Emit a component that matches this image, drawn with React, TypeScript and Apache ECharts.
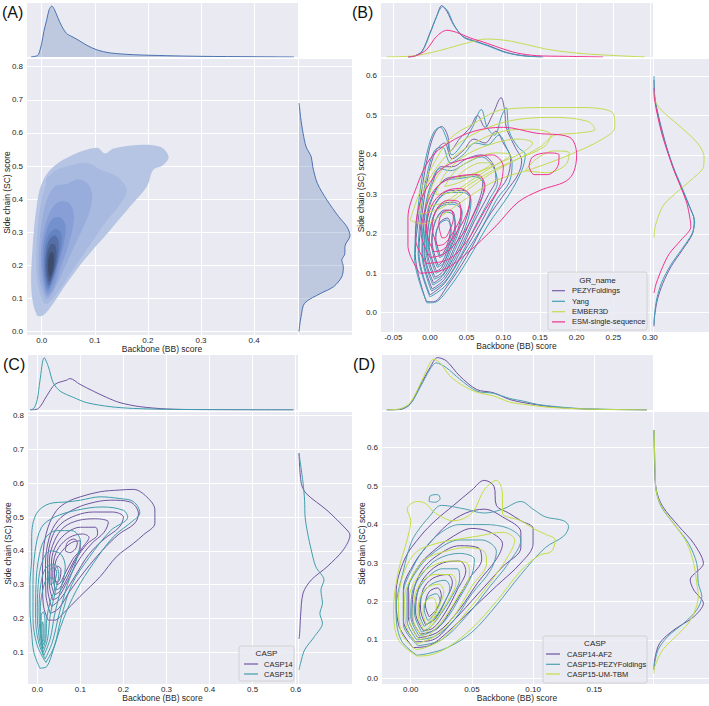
import React, { useEffect, useRef } from "react";
import * as echarts from "echarts";

type P = [number, number];

// ================= Panel A (single distribution, filled KDE) =================
const A_X_KDE: P[] = [[-0.02,0],[-0.01,0.02],[-0.006,0.05],[0.0,0.27],[0.004,0.5],[0.0094,0.73],[0.014,0.93],[0.019,1.0],[0.024,0.93],[0.03,0.78],[0.038,0.6],[0.047,0.46],[0.057,0.4],[0.066,0.35],[0.085,0.23],[0.104,0.14],[0.129,0.08],[0.173,0.045],[0.235,0.026],[0.3,0.013],[0.4,0.005],[0.475,0]];
const A_Y_KDE: P[] = [[0.0,0],[0.015,0.01],[0.045,0.04],[0.086,0.11],[0.116,0.43],[0.136,0.68],[0.166,0.84],[0.196,0.87],[0.216,0.84],[0.236,0.9],[0.257,0.9],[0.29,1.0],[0.317,0.94],[0.347,0.78],[0.397,0.55],[0.448,0.36],[0.498,0.27],[0.528,0.24],[0.558,0.14],[0.599,0.08],[0.649,0.03],[0.679,0.01],[0.69,0]];
const A_LEVELS: P[][] = [
  [[-0.009,0.05],[-0.019,0.116],[-0.018,0.236],[-0.008,0.397],[0.003,0.458],[0.022,0.498],[0.057,0.533],[0.104,0.555],[0.119,0.538],[0.135,0.553],[0.179,0.564],[0.223,0.558],[0.239,0.528],[0.229,0.503],[0.21,0.488],[0.198,0.438],[0.166,0.377],[0.129,0.307],[0.085,0.226],[0.047,0.146],[0.022,0.086],[0.003,0.05]],
  [[0.005,0.085],[-0.008,0.15],[-0.01,0.25],[-0.005,0.35],[0.005,0.43],[0.02,0.48],[0.05,0.5],[0.085,0.51],[0.11,0.49],[0.14,0.47],[0.16,0.43],[0.15,0.39],[0.12,0.33],[0.09,0.26],[0.06,0.19],[0.035,0.13],[0.015,0.09]],
  [[0.008,0.1],[-0.004,0.16],[-0.005,0.25],[0.0,0.33],[0.01,0.4],[0.025,0.44],[0.045,0.445],[0.07,0.46],[0.09,0.44],[0.095,0.4],[0.085,0.34],[0.065,0.27],[0.045,0.2],[0.028,0.14],[0.015,0.105]],
  [[0.01,0.11],[0.0,0.17],[-0.001,0.25],[0.005,0.31],[0.015,0.36],[0.03,0.39],[0.05,0.39],[0.06,0.36],[0.058,0.31],[0.048,0.25],[0.035,0.19],[0.022,0.13]],
  [[0.011,0.12],[0.003,0.17],[0.002,0.24],[0.008,0.3],[0.02,0.34],[0.035,0.345],[0.045,0.32],[0.042,0.27],[0.033,0.21],[0.022,0.15]],
  [[0.012,0.13],[0.005,0.17],[0.005,0.24],[0.012,0.29],[0.025,0.31],[0.036,0.3],[0.037,0.26],[0.03,0.21],[0.02,0.155]],
  [[0.013,0.14],[0.007,0.18],[0.008,0.24],[0.015,0.28],[0.026,0.29],[0.032,0.27],[0.03,0.22],[0.022,0.17]],
  [[0.014,0.15],[0.009,0.19],[0.011,0.24],[0.018,0.265],[0.026,0.26],[0.027,0.22],[0.021,0.175]],
  [[0.015,0.165],[0.012,0.2],[0.015,0.235],[0.021,0.24],[0.023,0.21],[0.02,0.18]],
];
const A_BLOB: P[] = [[0.008,0.45],[0.012,0.47],[0.02,0.468],[0.022,0.452],[0.015,0.44]];

// ================= Panel B =================
const B_GROUPS = ["PEZYFoldings", "Yang", "EMBER3D", "ESM-single-sequence"];
const B_X_KDE: P[][] = [
  [[-0.03,0],[-0.023,0.01],[-0.011,0.11],[0.0,0.47],[0.009,0.79],[0.016,1.0],[0.023,0.89],[0.032,0.63],[0.045,0.4],[0.064,0.3],[0.082,0.21],[0.1,0.11],[0.118,0.045],[0.135,0.015],[0.152,0]],
  [[-0.03,0],[-0.023,0.01],[-0.011,0.1],[0.0,0.45],[0.009,0.78],[0.017,0.98],[0.024,0.9],[0.033,0.62],[0.046,0.38],[0.064,0.29],[0.082,0.2],[0.1,0.1],[0.118,0.04],[0.135,0.012],[0.155,0]],
  [[-0.059,0],[-0.03,0.012],[-0.018,0.03],[0.0,0.08],[0.027,0.18],[0.05,0.27],[0.077,0.35],[0.105,0.32],[0.132,0.24],[0.164,0.14],[0.209,0.065],[0.255,0.026],[0.293,0]],
  [[-0.03,0],[-0.018,0.03],[-0.005,0.14],[0.009,0.4],[0.023,0.52],[0.036,0.48],[0.055,0.37],[0.073,0.29],[0.095,0.18],[0.118,0.08],[0.145,0.026],[0.186,0.013],[0.236,0]],
];
const B_Y_KDE: P[][] = [
  [[-0.035,0],[-0.01,0.01],[0.032,0.06],[0.074,0.16],[0.117,0.31],[0.16,0.52],[0.2,0.7],[0.235,0.73],[0.27,0.64],[0.32,0.49],[0.37,0.34],[0.455,0.16],[0.54,0.02],[0.59,0]],
  [[-0.03,0],[-0.005,0.01],[0.035,0.05],[0.077,0.14],[0.12,0.3],[0.16,0.5],[0.2,0.69],[0.23,0.74],[0.265,0.66],[0.32,0.5],[0.37,0.35],[0.455,0.15],[0.54,0.02],[0.6,0]],
  [[0.19,0],[0.218,0.02],[0.27,0.16],[0.3,0.37],[0.336,0.67],[0.37,0.9],[0.395,0.91],[0.43,0.79],[0.47,0.49],[0.514,0.13],[0.54,0.01],[0.56,0]],
  [[0.05,0],[0.074,0.04],[0.117,0.16],[0.15,0.28],[0.184,0.49],[0.218,0.67],[0.25,0.64],[0.285,0.58],[0.37,0.34],[0.455,0.14],[0.54,0.01],[0.57,0]],
];
const B_CONTOURS: P[][][] = [
  [
    [[-0.005,0.028],[-0.02,0.15],[-0.015,0.25],[-0.009,0.336],[0.0,0.42],[0.008,0.46],[0.016,0.472],[0.024,0.45],[0.028,0.41],[0.04,0.44],[0.055,0.47],[0.065,0.5],[0.075,0.47],[0.085,0.5],[0.097,0.545],[0.102,0.51],[0.104,0.47],[0.116,0.42],[0.125,0.385],[0.12,0.35],[0.105,0.31],[0.077,0.235],[0.05,0.142],[0.023,0.066],[0.005,0.028]],
    [[0.0,0.045],[-0.015,0.15],[-0.01,0.26],[-0.002,0.35],[0.008,0.41],[0.02,0.43],[0.03,0.39],[0.045,0.41],[0.06,0.44],[0.075,0.43],[0.09,0.46],[0.1,0.43],[0.11,0.39],[0.105,0.34],[0.09,0.3],[0.07,0.23],[0.045,0.15],[0.02,0.075]],
    [[0.003,0.06],[-0.01,0.15],[-0.006,0.26],[0.004,0.33],[0.015,0.37],[0.03,0.37],[0.05,0.39],[0.07,0.4],[0.085,0.38],[0.09,0.34],[0.08,0.3],[0.06,0.23],[0.04,0.15],[0.02,0.085]],
    [[0.005,0.075],[-0.007,0.15],[-0.003,0.25],[0.008,0.31],[0.022,0.34],[0.04,0.345],[0.06,0.35],[0.072,0.33],[0.068,0.29],[0.052,0.22],[0.035,0.15],[0.018,0.095]],
    [[0.007,0.09],[-0.004,0.16],[0.0,0.24],[0.012,0.29],[0.028,0.31],[0.045,0.31],[0.055,0.29],[0.048,0.23],[0.032,0.16],[0.018,0.105]],
    [[0.009,0.105],[-0.001,0.17],[0.004,0.24],[0.016,0.275],[0.032,0.28],[0.043,0.26],[0.038,0.21],[0.027,0.16],[0.016,0.115]],
    [[0.011,0.12],[0.003,0.18],[0.008,0.235],[0.02,0.26],[0.032,0.255],[0.034,0.22],[0.026,0.17],[0.017,0.13]],
    [[0.014,0.145],[0.008,0.19],[0.014,0.23],[0.024,0.24],[0.028,0.215],[0.024,0.175],[0.018,0.15]],
  ],
  [
    [[-0.004,0.025],[-0.021,0.14],[-0.017,0.25],[-0.011,0.34],[-0.002,0.42],[0.006,0.46],[0.014,0.47],[0.022,0.445],[0.03,0.4],[0.045,0.43],[0.058,0.47],[0.07,0.515],[0.078,0.47],[0.088,0.45],[0.098,0.5],[0.104,0.52],[0.108,0.46],[0.12,0.42],[0.13,0.4],[0.125,0.36],[0.108,0.3],[0.08,0.225],[0.052,0.135],[0.025,0.06],[0.006,0.026]],
    [[0.0,0.04],[-0.016,0.15],[-0.012,0.26],[-0.004,0.35],[0.006,0.41],[0.017,0.42],[0.028,0.38],[0.045,0.4],[0.062,0.43],[0.078,0.425],[0.094,0.45],[0.104,0.42],[0.112,0.38],[0.108,0.33],[0.092,0.29],[0.072,0.22],[0.047,0.145],[0.022,0.07]],
    [[0.002,0.055],[-0.011,0.15],[-0.007,0.26],[0.002,0.33],[0.013,0.365],[0.028,0.36],[0.05,0.38],[0.07,0.395],[0.086,0.37],[0.092,0.33],[0.082,0.29],[0.062,0.22],[0.042,0.145],[0.021,0.08]],
    [[0.004,0.07],[-0.008,0.15],[-0.004,0.25],[0.007,0.31],[0.021,0.335],[0.04,0.34],[0.06,0.345],[0.074,0.325],[0.07,0.285],[0.054,0.215],[0.036,0.145],[0.019,0.09]],
    [[0.006,0.085],[-0.005,0.155],[-0.001,0.235],[0.011,0.285],[0.027,0.305],[0.045,0.305],[0.056,0.285],[0.05,0.225],[0.033,0.155],[0.019,0.1]],
    [[0.008,0.1],[-0.002,0.165],[0.003,0.235],[0.015,0.27],[0.031,0.275],[0.044,0.255],[0.039,0.205],[0.028,0.155],[0.017,0.11]],
    [[0.01,0.115],[0.002,0.175],[0.007,0.23],[0.019,0.255],[0.031,0.25],[0.035,0.215],[0.027,0.165],[0.018,0.125]],
    [[0.013,0.14],[0.007,0.185],[0.013,0.225],[0.023,0.235],[0.029,0.21],[0.025,0.17],[0.018,0.145]],
  ],
  [
    [[-0.027,0.235],[-0.015,0.3],[0.0,0.36],[0.027,0.44],[0.06,0.48],[0.1,0.515],[0.16,0.52],[0.21,0.52],[0.25,0.505],[0.252,0.47],[0.235,0.44],[0.19,0.4],[0.14,0.365],[0.09,0.335],[0.05,0.29],[0.015,0.245],[-0.01,0.225]],
    [[-0.015,0.25],[-0.008,0.31],[0.01,0.37],[0.04,0.43],[0.08,0.47],[0.12,0.49],[0.17,0.495],[0.215,0.485],[0.225,0.465],[0.2,0.455],[0.17,0.45],[0.15,0.42],[0.12,0.39],[0.085,0.355],[0.05,0.31],[0.015,0.265]],
    [[-0.005,0.27],[0.005,0.33],[0.03,0.39],[0.06,0.43],[0.1,0.46],[0.14,0.465],[0.165,0.45],[0.155,0.42],[0.12,0.39],[0.085,0.36],[0.05,0.32],[0.02,0.28]],
    [[0.008,0.3],[0.02,0.35],[0.045,0.395],[0.08,0.425],[0.12,0.44],[0.14,0.43],[0.125,0.405],[0.09,0.375],[0.06,0.34],[0.03,0.305]],
    [[0.02,0.32],[0.035,0.36],[0.06,0.39],[0.09,0.405],[0.11,0.4],[0.095,0.38],[0.065,0.355],[0.04,0.33]],
    [[0.035,0.34],[0.05,0.365],[0.07,0.38],[0.085,0.38],[0.075,0.365],[0.055,0.35]],
    [[0.13,0.36],[0.145,0.39],[0.17,0.41],[0.19,0.405],[0.185,0.375],[0.16,0.355]],
  ],
  [
    [[-0.014,0.1],[-0.03,0.17],[-0.03,0.24],[-0.018,0.32],[0.0,0.39],[0.025,0.43],[0.06,0.46],[0.1,0.47],[0.145,0.455],[0.19,0.445],[0.2,0.4],[0.19,0.34],[0.15,0.31],[0.12,0.28],[0.09,0.22],[0.05,0.15],[0.02,0.11]],
    [[-0.005,0.125],[-0.02,0.19],[-0.015,0.27],[0.0,0.33],[0.02,0.37],[0.05,0.39],[0.085,0.4],[0.1,0.37],[0.095,0.32],[0.075,0.26],[0.05,0.18],[0.025,0.135]],
    [[0.0,0.14],[-0.012,0.2],[-0.005,0.27],[0.01,0.32],[0.035,0.345],[0.065,0.35],[0.075,0.32],[0.065,0.27],[0.045,0.2],[0.02,0.15]],
    [[0.005,0.155],[-0.005,0.21],[0.002,0.27],[0.018,0.305],[0.04,0.315],[0.055,0.295],[0.05,0.25],[0.035,0.2],[0.018,0.16]],
    [[0.01,0.17],[0.003,0.215],[0.01,0.265],[0.025,0.285],[0.04,0.28],[0.042,0.25],[0.032,0.205],[0.02,0.175]],
    [[0.016,0.19],[0.012,0.225],[0.018,0.255],[0.028,0.26],[0.032,0.24],[0.027,0.21],[0.02,0.19]],
    [[0.135,0.37],[0.14,0.395],[0.16,0.405],[0.176,0.4],[0.175,0.375],[0.16,0.35],[0.142,0.35]],
  ],
];

// ================= Panel C =================
const C_GROUPS = ["CASP14", "CASP15"];
const C_X_KDE: P[][] = [
  [[-0.017,0],[0.002,0.025],[0.022,0.27],[0.041,0.49],[0.068,0.57],[0.076,0.6],[0.099,0.49],[0.13,0.36],[0.161,0.24],[0.192,0.14],[0.238,0.064],[0.3,0.02],[0.378,0.006],[0.595,0]],
  [[-0.017,0],[-0.008,0.03],[0.0,0.2],[0.006,0.55],[0.016,1.0],[0.026,0.82],[0.037,0.52],[0.053,0.36],[0.084,0.24],[0.115,0.14],[0.169,0.064],[0.223,0.03],[0.3,0.013],[0.595,0]],
];
const C_Y_KDE: P[][] = [
  [[0.14,0],[0.156,0.013],[0.205,0.03],[0.275,0.08],[0.314,0.24],[0.353,0.55],[0.403,0.87],[0.447,1.0],[0.462,0.94],[0.52,0.55],[0.57,0.14],[0.6,0.045],[0.689,0]],
  [[0.048,0],[0.067,0.03],[0.107,0.11],[0.146,0.3],[0.186,0.46],[0.215,0.41],[0.245,0.46],[0.284,0.43],[0.314,0.49],[0.353,0.33],[0.403,0.24],[0.452,0.17],[0.5,0.12],[0.55,0.11],[0.6,0.08],[0.689,0]],
];
const C_CONTOURS: P[][][] = [
  [
    [[0.025,0.195],[0.014,0.24],[0.012,0.32],[0.014,0.4],[0.025,0.47],[0.045,0.52],[0.07,0.545],[0.1,0.56],[0.146,0.575],[0.19,0.58],[0.223,0.582],[0.254,0.56],[0.273,0.521],[0.273,0.482],[0.246,0.447],[0.223,0.422],[0.184,0.383],[0.146,0.324],[0.099,0.265],[0.06,0.215],[0.04,0.195]],
    [[0.03,0.215],[0.02,0.27],[0.019,0.36],[0.028,0.44],[0.048,0.49],[0.08,0.52],[0.12,0.54],[0.17,0.55],[0.215,0.545],[0.235,0.51],[0.225,0.48],[0.19,0.45],[0.15,0.4],[0.11,0.34],[0.075,0.28],[0.05,0.23]],
    [[0.033,0.235],[0.024,0.29],[0.024,0.37],[0.034,0.44],[0.055,0.48],[0.09,0.505],[0.13,0.515],[0.175,0.515],[0.2,0.5],[0.19,0.47],[0.155,0.435],[0.12,0.39],[0.085,0.32],[0.055,0.26]],
    [[0.036,0.255],[0.028,0.3],[0.028,0.37],[0.04,0.43],[0.062,0.47],[0.095,0.49],[0.135,0.495],[0.165,0.485],[0.155,0.455],[0.125,0.42],[0.095,0.37],[0.07,0.31],[0.05,0.265]],
    [[0.04,0.27],[0.032,0.31],[0.033,0.37],[0.045,0.42],[0.07,0.455],[0.1,0.47],[0.135,0.47],[0.14,0.45],[0.115,0.42],[0.09,0.375],[0.07,0.32],[0.052,0.28]],
    [[0.043,0.285],[0.036,0.32],[0.038,0.37],[0.05,0.41],[0.075,0.44],[0.105,0.45],[0.12,0.44],[0.105,0.41],[0.085,0.37],[0.065,0.32],[0.052,0.29]],
    [[0.045,0.3],[0.04,0.33],[0.043,0.37],[0.058,0.4],[0.08,0.425],[0.1,0.43],[0.1,0.41],[0.082,0.375],[0.065,0.335],[0.053,0.305]],
    [[0.065,0.4],[0.07,0.425],[0.085,0.435],[0.093,0.425],[0.088,0.405],[0.075,0.395]],
    [[0.042,0.31],[0.04,0.335],[0.047,0.355],[0.055,0.345],[0.053,0.32],[0.047,0.308]],
  ],
  [
    [[0.006,0.053],[-0.008,0.1],[-0.013,0.156],[-0.017,0.23],[-0.017,0.304],[-0.013,0.38],[-0.013,0.442],[-0.002,0.51],[0.029,0.54],[0.07,0.545],[0.1,0.55],[0.146,0.56],[0.19,0.555],[0.223,0.546],[0.238,0.512],[0.223,0.49],[0.177,0.442],[0.13,0.363],[0.091,0.284],[0.06,0.196],[0.037,0.107],[0.022,0.058]],
    [[0.02,0.07],[0.0,0.12],[-0.01,0.2],[-0.01,0.3],[-0.005,0.4],[0.01,0.47],[0.04,0.5],[0.09,0.52],[0.15,0.53],[0.2,0.52],[0.21,0.5],[0.17,0.46],[0.12,0.38],[0.08,0.3],[0.055,0.2],[0.04,0.12]],
    [[0.018,0.08],[0.003,0.13],[-0.004,0.2],[-0.003,0.3],[0.005,0.39],[0.02,0.44],[0.045,0.46],[0.08,0.46],[0.1,0.43],[0.09,0.37],[0.07,0.3],[0.05,0.21],[0.035,0.13]],
    [[0.015,0.09],[0.005,0.14],[0.0,0.21],[0.002,0.3],[0.012,0.37],[0.03,0.4],[0.055,0.39],[0.065,0.35],[0.055,0.29],[0.04,0.21],[0.03,0.14]],
    [[0.014,0.1],[0.007,0.15],[0.004,0.22],[0.008,0.3],[0.02,0.35],[0.04,0.36],[0.05,0.33],[0.042,0.28],[0.03,0.21],[0.024,0.14]],
    [[0.013,0.11],[0.008,0.16],[0.007,0.22],[0.012,0.28],[0.025,0.32],[0.038,0.32],[0.04,0.29],[0.03,0.25],[0.022,0.2],[0.02,0.14]],
    [[0.012,0.12],[0.009,0.16],[0.009,0.21],[0.014,0.22],[0.018,0.19],[0.018,0.14]],
    [[0.012,0.13],[0.011,0.16],[0.012,0.19],[0.015,0.17],[0.015,0.14]],
    [[0.028,0.3],[0.025,0.33],[0.035,0.35],[0.045,0.34],[0.04,0.31]],
  ],
];

// ================= Panel D =================
const D_GROUPS = ["CASP14-AF2", "CASP15-PEZYFoldings", "CASP15-UM-TBM"];
const D_X_KDE: P[][] = [
  [[-0.0196,0],[-0.0087,0.01],[-0.0005,0.11],[0.0076,0.46],[0.0158,0.81],[0.0218,1.0],[0.029,0.94],[0.04,0.65],[0.054,0.39],[0.0675,0.33],[0.081,0.2],[0.095,0.13],[0.114,0.064],[0.141,0.02],[0.193,0]],
  [[-0.0196,0],[-0.0087,0.013],[-0.0005,0.11],[0.0076,0.43],[0.0158,0.78],[0.0207,0.9],[0.029,0.81],[0.04,0.59],[0.054,0.36],[0.0675,0.32],[0.081,0.22],[0.092,0.17],[0.103,0.11],[0.119,0.064],[0.141,0.025],[0.193,0]],
  [[-0.0196,0],[-0.0087,0.025],[-0.0005,0.14],[0.0076,0.49],[0.0158,0.9],[0.0185,0.97],[0.024,0.9],[0.032,0.65],[0.043,0.46],[0.054,0.34],[0.0675,0.27],[0.081,0.15],[0.095,0.1],[0.114,0.05],[0.141,0.02],[0.193,0]],
];
const D_Y_KDE: P[][] = [
  [[0.022,0],[0.048,0.013],[0.091,0.11],[0.126,0.39],[0.16,0.78],[0.195,0.97],[0.23,0.78],[0.256,0.71],[0.299,0.97],[0.351,0.78],[0.395,0.49],[0.447,0.17],[0.49,0.045],[0.55,0.013],[0.646,0]],
  [[0.03,0],[0.074,0.08],[0.109,0.27],[0.144,0.59],[0.178,0.84],[0.213,0.94],[0.247,0.87],[0.299,0.84],[0.351,0.68],[0.395,0.43],[0.447,0.14],[0.49,0.04],[0.55,0.02],[0.646,0]],
  [[0.013,0],[0.03,0.013],[0.074,0.17],[0.109,0.43],[0.144,0.68],[0.178,0.81],[0.213,0.87],[0.247,0.84],[0.299,0.78],[0.351,0.65],[0.395,0.43],[0.447,0.15],[0.49,0.04],[0.55,0.02],[0.646,0]],
];
const D_CONTOURS: P[][][] = [
  [
    [[0.002,0.08],[-0.01,0.14],[-0.012,0.22],[-0.005,0.31],[0.008,0.37],[0.02,0.41],[0.035,0.45],[0.05,0.49],[0.06,0.515],[0.068,0.5],[0.07,0.45],[0.08,0.43],[0.09,0.41],[0.1,0.39],[0.1,0.35],[0.09,0.3],[0.07,0.24],[0.05,0.18],[0.03,0.12],[0.015,0.085]],
    [[0.004,0.095],[-0.006,0.15],[-0.006,0.23],[0.003,0.3],[0.015,0.35],[0.03,0.4],[0.045,0.43],[0.06,0.44],[0.075,0.42],[0.09,0.38],[0.09,0.34],[0.075,0.29],[0.055,0.22],[0.035,0.15],[0.018,0.1]],
    [[0.006,0.105],[-0.002,0.16],[-0.002,0.23],[0.006,0.29],[0.018,0.33],[0.035,0.37],[0.05,0.39],[0.065,0.38],[0.075,0.35],[0.07,0.31],[0.055,0.25],[0.04,0.18],[0.022,0.12]],
    [[0.008,0.115],[0.001,0.16],[0.002,0.22],[0.009,0.28],[0.022,0.32],[0.04,0.345],[0.055,0.34],[0.058,0.31],[0.048,0.26],[0.035,0.19],[0.022,0.13]],
    [[0.01,0.125],[0.004,0.17],[0.006,0.23],[0.013,0.27],[0.026,0.3],[0.04,0.305],[0.045,0.28],[0.038,0.23],[0.028,0.17],[0.018,0.13]],
    [[0.012,0.14],[0.008,0.18],[0.01,0.23],[0.018,0.26],[0.03,0.27],[0.034,0.25],[0.028,0.2],[0.02,0.155]],
    [[0.015,0.16],[0.012,0.19],[0.015,0.225],[0.022,0.235],[0.025,0.215],[0.021,0.18]],
  ],
  [
    [[0.005,0.06],[-0.008,0.1],[-0.012,0.18],[-0.006,0.28],[0.0,0.35],[0.005,0.38],[0.015,0.42],[0.025,0.45],[0.045,0.44],[0.06,0.43],[0.075,0.44],[0.09,0.46],[0.1,0.44],[0.11,0.42],[0.125,0.41],[0.129,0.395],[0.125,0.37],[0.11,0.34],[0.09,0.27],[0.07,0.19],[0.05,0.12],[0.03,0.08],[0.015,0.065]],
    [[0.015,0.46],[0.016,0.475],[0.022,0.478],[0.024,0.468],[0.02,0.458]],
    [[0.006,0.085],[-0.006,0.14],[-0.006,0.22],[0.002,0.29],[0.012,0.34],[0.025,0.38],[0.04,0.4],[0.06,0.4],[0.08,0.39],[0.09,0.36],[0.08,0.3],[0.065,0.24],[0.045,0.16],[0.025,0.1]],
    [[0.005,0.1],[-0.003,0.15],[-0.003,0.22],[0.005,0.28],[0.02,0.33],[0.04,0.36],[0.058,0.36],[0.07,0.33],[0.065,0.28],[0.05,0.22],[0.035,0.15],[0.02,0.11]],
    [[0.007,0.11],[0.0,0.16],[0.001,0.22],[0.009,0.27],[0.022,0.31],[0.04,0.325],[0.052,0.31],[0.05,0.27],[0.04,0.21],[0.028,0.15],[0.016,0.12]],
    [[0.009,0.12],[0.003,0.17],[0.005,0.22],[0.013,0.26],[0.026,0.285],[0.038,0.285],[0.04,0.26],[0.033,0.21],[0.023,0.16],[0.015,0.13]],
    [[0.011,0.135],[0.007,0.17],[0.009,0.215],[0.017,0.245],[0.028,0.255],[0.032,0.235],[0.027,0.195],[0.019,0.155]],
    [[0.014,0.15],[0.011,0.18],[0.014,0.21],[0.021,0.22],[0.024,0.2],[0.02,0.17]],
  ],
  [
    [[0.005,0.058],[-0.01,0.1],[-0.014,0.18],[-0.01,0.28],[-0.003,0.36],[0.0,0.41],[-0.003,0.44],[0.005,0.46],[0.012,0.455],[0.02,0.43],[0.035,0.41],[0.05,0.43],[0.06,0.49],[0.07,0.515],[0.075,0.48],[0.075,0.43],[0.09,0.41],[0.1,0.39],[0.11,0.375],[0.118,0.36],[0.115,0.33],[0.105,0.32],[0.09,0.28],[0.07,0.2],[0.05,0.13],[0.03,0.08],[0.015,0.06]],
    [[0.004,0.075],[-0.008,0.12],[-0.01,0.2],[-0.005,0.28],[0.005,0.33],[0.02,0.35],[0.035,0.36],[0.055,0.37],[0.075,0.38],[0.085,0.36],[0.08,0.32],[0.065,0.25],[0.045,0.17],[0.025,0.1],[0.01,0.078]],
    [[0.005,0.09],[-0.004,0.14],[-0.005,0.21],[0.002,0.27],[0.012,0.31],[0.028,0.33],[0.045,0.34],[0.06,0.33],[0.062,0.3],[0.05,0.24],[0.035,0.16],[0.02,0.11]],
    [[0.007,0.1],[-0.001,0.15],[-0.001,0.21],[0.005,0.26],[0.016,0.29],[0.032,0.305],[0.046,0.3],[0.048,0.27],[0.038,0.21],[0.026,0.15],[0.014,0.11]],
    [[0.009,0.11],[0.002,0.155],[0.003,0.21],[0.009,0.25],[0.02,0.27],[0.033,0.27],[0.037,0.25],[0.03,0.2],[0.02,0.15],[0.013,0.12]],
    [[0.011,0.125],[0.006,0.165],[0.007,0.205],[0.013,0.235],[0.023,0.245],[0.027,0.225],[0.022,0.18],[0.016,0.14]],
    [[0.013,0.14],[0.01,0.17],[0.012,0.2],[0.018,0.21],[0.021,0.19],[0.018,0.16]],
  ],
];

// ================= Styles =================
const FONT = '"Liberation Sans", Arial, Helvetica, sans-serif';
const BG = "#EAEAF2";
const TXT = "#262626";
const SNS_BLUE = "#4C72B0";
const A_FILLS = ["#B6C5E4", "#A9BAE1", "#99ADDC", "#879FD6", "#7591CD", "#6483C0", "#576FA8", "#4A5E8C", "#3E4C6C"];
const B_COLORS = ["#7B5EA7", "#3F9FB5", "#C5DB52", "#F0338D"];
const C_COLORS = ["#6E55A0", "#3E9EAB"];
const D_COLORS = ["#6D4F9E", "#4FA0B0", "#C3DE45"];

interface Rect { l: number; t: number; w: number; h: number }
interface PanelCfg {
  label: string;
  main: Rect; top: Rect; right: Rect;
  x: [number, number, number, number]; // min, max, interval, decimals
  y: [number, number, number, number];
  topMax: number; rightMax: number;
}
const PANELS: PanelCfg[] = [
  { label: "(A)", main: { l: 26, t: 58, w: 272, h: 277 }, top: { l: 26, t: 3, w: 272, h: 54 }, right: { l: 299, t: 58, w: 53, h: 277 },
    x: [-0.0296, 0.4827, 0.1, 1], y: [-0.00996, 0.8263, 0.1, 1], topMax: 1.06, rightMax: 1.04 },
  { label: "(B)", main: { l: 380, t: 58, w: 273, h: 274 }, top: { l: 380, t: 3, w: 273, h: 54 }, right: { l: 654, t: 58, w: 55, h: 274 },
    x: [-0.0681, 0.3041, 0.05, 2], y: [-0.0489, 0.6456, 0.1, 1], topMax: 1.05, rightMax: 1.0 },
  { label: "(C)", main: { l: 27, t: 411, w: 271, h: 273 }, top: { l: 27, t: 355, w: 271, h: 55 }, right: { l: 299, t: 411, w: 53, h: 273 },
    x: [-0.0239, 0.6053, 0.1, 1], y: [0.0062, 0.8139, 0.1, 1], topMax: 1.05, rightMax: 1.04 },
  { label: "(D)", main: { l: 381, t: 411, w: 272, h: 273 }, top: { l: 381, t: 355, w: 272, h: 55 }, right: { l: 654, t: 411, w: 55, h: 273 },
    x: [-0.0243, 0.198, 0.05, 2], y: [-0.0148, 0.6955, 0.1, 1], topMax: 1.05, rightMax: 1.08 },
];

const closeRing = (pts: P[]): P[] => [...pts, pts[0]];

function buildOption() {
  const grid: any[] = [];
  const xAxis: any[] = [];
  const yAxis: any[] = [];
  const series: any[] = [];
  const graphic: any[] = [];

  const gridLine = { show: true, lineStyle: { color: "#FFFFFF", width: 1 } };
  const hidden = { show: false };

  PANELS.forEach((p, i) => {
    const g = i * 3;
    [p.main, p.top, p.right].forEach((r) =>
      grid.push({ left: r.l, top: r.t, width: r.w, height: r.h, show: true, backgroundColor: BG, borderWidth: 0, containLabel: false })
    );
    const valAxis = (range: number[], gi: number, labels: boolean, margin: number) => ({
      type: "value", gridIndex: gi, min: range[0], max: range[1],
      minInterval: range[2], maxInterval: range[2], splitNumber: 6,
      axisLine: hidden, axisTick: hidden, splitLine: gridLine,
      axisLabel: labels
        ? { show: true, interval: 0, showMinLabel: false, showMaxLabel: false, margin, fontSize: 8, fontFamily: FONT, color: TXT,
            formatter: (v: number) => v.toFixed(range[3]) }
        : { show: false },
    });
    // main
    xAxis.push(valAxis(p.x, g, true, 1));
    yAxis.push(valAxis(p.y, g, true, 3));
    // top marginal
    xAxis.push(valAxis(p.x, g + 1, false, 0));
    yAxis.push({ type: "value", gridIndex: g + 1, min: 0, max: p.topMax, show: false, splitLine: hidden });
    // right marginal
    xAxis.push({ type: "value", gridIndex: g + 2, min: 0, max: p.rightMax, show: false, splitLine: hidden });
    yAxis.push(valAxis(p.y, g + 2, false, 0));

    // panel label
    graphic.push({ type: "text", x: p.main.l - 24 + (i % 2 === 0 ? 0 : -4), y: p.top.t + 1, z: 100,
      style: { text: p.label, font: `16px ${FONT}`, fill: "#111", textAlign: "left", textVerticalAlign: "top", align: "left", verticalAlign: "top" } });
    // axis titles
    graphic.push({ type: "text", x: p.main.l + p.main.w / 2, y: p.main.t + p.main.h + 14, z: 100,
      style: { text: "Backbone (BB) score", font: `8.5px ${FONT}`, fill: TXT, textAlign: "center", textVerticalAlign: "middle", align: "center", verticalAlign: "middle" } });
    graphic.push({ type: "text", x: p.main.l - 19.5, y: p.main.t + p.main.h / 2 - 4, rotation: Math.PI / 2, z: 100,
      style: { text: "Side chain (SC) score", font: `8.5px ${FONT}`, fill: TXT, textAlign: "center", textVerticalAlign: "middle", align: "center", verticalAlign: "middle" } });
  });

  const lineS = (data: P[], gi: number, color: string, smooth: number, z = 3) => ({
    type: "line", xAxisIndex: gi, yAxisIndex: gi, data, showSymbol: false, symbol: "none",
    smooth, silent: true, lineStyle: { color, width: 1 }, z, clip: true,
  });
  const polyS = (pts: P[], gi: number, fill: string, z = 2) => ({
    type: "custom", xAxisIndex: gi, yAxisIndex: gi, silent: true, z, clip: true,
    data: [[pts[0][0], pts[0][1]]],
    renderItem: (_params: any, api: any) => ({
      type: "polygon",
      shape: { points: pts.map((q) => api.coord(q)), smooth: 0.35 },
      style: { fill, stroke: "none" },
    }),
  });
  const swap = (pts: P[]): P[] => pts.map(([a, b]) => [b, a] as P);

  // ---- A ----
  A_LEVELS.forEach((lvl, k) => series.push(polyS(lvl, 0, A_FILLS[k], 2 + k * 0.01)));
  series.push(polyS(A_BLOB, 0, A_FILLS[1], 2.05));
  series.push(polyS(A_X_KDE, 1, "rgba(76,114,176,0.28)"));
  series.push(lineS(A_X_KDE, 1, SNS_BLUE, 0.3));
  series.push(polyS(swap(A_Y_KDE), 2, "rgba(76,114,176,0.28)"));
  series.push(lineS(swap(A_Y_KDE), 2, SNS_BLUE, 0.3));

  // ---- contour panels ----
  const contourPanel = (pi: number, contours: P[][][], xk: P[][], yk: P[][], colors: string[]) => {
    const g = pi * 3;
    contours.forEach((grp, gi) => grp.forEach((lvl) => series.push(lineS(closeRing(lvl), g, colors[gi], 0.35, 3 + gi))));
    xk.forEach((pts, gi) => series.push(lineS(pts, g + 1, colors[gi], 0.3, 3 + gi)));
    yk.forEach((pts, gi) => series.push(lineS(swap(pts), g + 2, colors[gi], 0.3, 3 + gi)));
  };
  contourPanel(1, B_CONTOURS, B_X_KDE, B_Y_KDE, B_COLORS);
  contourPanel(2, C_CONTOURS, C_X_KDE, C_Y_KDE, C_COLORS);
  contourPanel(3, D_CONTOURS, D_X_KDE, D_Y_KDE, D_COLORS);

  // ---- legends ----
  const legend = (box: Rect, title: string, titleY: number, names: string[], colors: string[], ys: number[], lx1: number, lx2: number, tx: number) => {
    graphic.push({ type: "rect", z: 100, shape: { x: box.l, y: box.t, width: box.w, height: box.h, r: 2 },
      style: { fill: "rgba(234,234,242,0.85)", stroke: "#CCCCCC", lineWidth: 0.8 } });
    graphic.push({ type: "text", z: 101, x: box.l + box.w / 2, y: titleY,
      style: { text: title, font: `8px ${FONT}`, fill: TXT, textAlign: "center", textVerticalAlign: "middle", align: "center", verticalAlign: "middle" } });
    names.forEach((n, k) => {
      graphic.push({ type: "line", z: 101, shape: { x1: lx1, y1: ys[k], x2: lx2, y2: ys[k] }, style: { stroke: colors[k], lineWidth: 1.2 } });
      graphic.push({ type: "text", z: 101, x: tx, y: ys[k],
        style: { text: n, font: `7.5px ${FONT}`, fill: TXT, textAlign: "left", textVerticalAlign: "middle", align: "left", verticalAlign: "middle" } });
    });
  };
  legend({ l: 548, t: 272, w: 99, h: 58 }, "GR_name", 280, B_GROUPS, B_COLORS, [290.7, 301.3, 311.7, 321.9], 552, 565, 572);
  legend({ l: 239, t: 646, w: 55, h: 35 }, "CASP", 653.5, C_GROUPS, C_COLORS, [664, 674], 244, 258, 264);
  legend({ l: 543, t: 636, w: 104, h: 47 }, "CASP", 643, D_GROUPS, D_COLORS, [654, 664.3, 674], 546, 560, 567);

  return {
    animation: false,
    backgroundColor: "#FFFFFF",
    textStyle: { fontFamily: FONT },
    grid, xAxis, yAxis, series, graphic,
  };
}

export default function App() {
  const ref = useRef<HTMLDivElement>(null);
  useEffect(() => {
    if (!ref.current) return;
    const chart = echarts.init(ref.current, undefined, { renderer: "svg" });
    chart.setOption(buildOption() as any);
    return () => chart.dispose();
  }, []);
  return <div ref={ref} style={{ position: "fixed", left: 0, top: 0, width: 709, height: 706, background: "#fff" }} />;
}
